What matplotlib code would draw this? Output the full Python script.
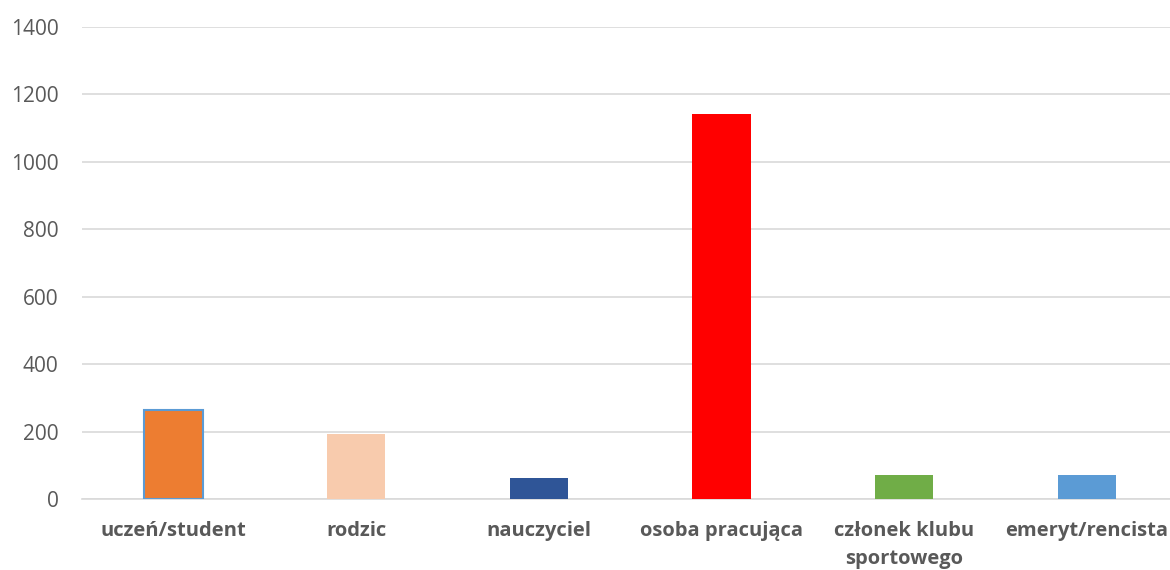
import matplotlib
matplotlib.use("Agg")
import matplotlib.pyplot as plt

categories = ["uczeń/student", "rodzic", "nauczyciel", "osoba pracująca",
              "członek klubu\nsportowego", "emeryt/rencista"]
values = [264, 193, 62, 1142, 71, 71]
colors = ["#ED7D31", "#F8CBAD", "#2F5597", "#FF0000", "#70AD47", "#5B9BD5"]
edgecolors = ["#5B9BD5", "none", "none", "none", "none", "none"]
yticks = [0, 200, 400, 600, 800, 1000, 1200, 1400]

plt.rcParams['font.family'] = ['Open Sans', 'DejaVu Sans']

fig = plt.figure(figsize=(11.7, 5.7), dpi=100)
ax = fig.add_axes([82/1170, 1-499/570, (1170-82)/1170, (499-27)/570])

x = list(range(len(categories)))
ax.bar(x, values, width=0.32, color=colors, edgecolor=edgecolors, linewidth=1.5, zorder=3)

ax.set_ylim(0, 1400)
ax.set_xlim(-0.5, (1170-82)/182.7 - 0.5)
ax.set_yticks(yticks)
ax.set_yticklabels([str(t) for t in yticks], fontsize=15, color="#595959")
ax.set_xticks(x)
ax.set_xticklabels(categories, fontsize=14.5, fontweight="bold", color="#595959",
                   linespacing=1.5)
ax.tick_params(axis="both", length=0)
ax.tick_params(axis="y", pad=17)
ax.tick_params(axis="x", pad=16)
ax.grid(axis="y", color="#D9D9D9", linewidth=1.2, zorder=0)
for s in ["top", "right", "left"]:
    ax.spines[s].set_visible(False)
ax.spines["bottom"].set_color("#D9D9D9")
ax.spines["bottom"].set_linewidth(1.2)

fig.savefig("out.png", dpi=100)
